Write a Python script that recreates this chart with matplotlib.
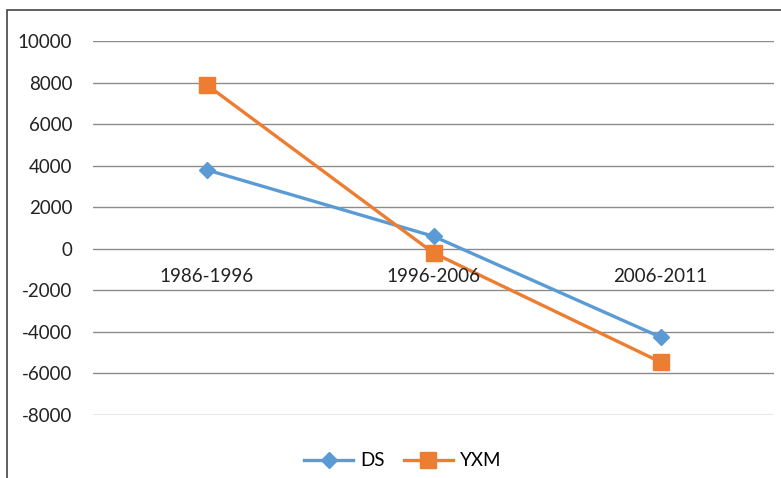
import matplotlib
matplotlib.use('Agg')
from matplotlib import pyplot as plt
from matplotlib.patches import Rectangle

# Data
periods = ['1986-1996', '1996-2006', '2006-2011']
ds = [3800, 600, -4250]
yxm = [7900, -200, -5450]
yticks = list(range(-8000, 10001, 2000))

plt.rcParams['font.family'] = ['Lato', 'DejaVu Sans']

fig = plt.figure(figsize=(7.81, 4.78), dpi=100)
ax = fig.add_axes([93 / 781, 1 - 415 / 478, (774 - 93) / 781, (415 - 41) / 478])

xs = range(len(periods))
ax.plot(xs, ds, color='#5B9BD5', lw=2.4, marker='D', markersize=8, label='DS', zorder=3)
ax.plot(xs, yxm, color='#ED7D31', lw=2.4, marker='s', markersize=11, label='YXM', zorder=3)

# Format plot.
ax.set_xlim(-0.5, len(periods) - 0.5)
ax.set_ylim(-8000, 10000)
ax.set_yticks(yticks)
ax.set_yticklabels([str(t) for t in yticks])
ax.yaxis.grid(True, color='#8c8c8c', lw=1)
ax.set_axisbelow(True)
ax.set_xticks([])
ax.tick_params(axis='y', length=0, pad=15, labelsize=13.5, colors='#222222')
for s in ax.spines.values():
    s.set_visible(False)

# Category labels sit just under the zero line, Excel style
for i, p in enumerate(periods):
    ax.annotate(p, (i, 0), xytext=(0, -28), textcoords='offset pixels',
                ha='center', va='center', fontsize=13.5, color='#222222')

fig.legend(loc='center', bbox_to_anchor=(0.516, 1 - 461 / 478), ncol=2,
           frameon=False, fontsize=13.5, handlelength=2.6, columnspacing=1.0,
           handletextpad=0.4)

# chart border (right and bottom edges fall outside the image)
fig.patches.append(Rectangle((7 / 781, -0.1), 1.2, 1 - 10 / 478 + 0.1,
                             transform=fig.transFigure, fill=False,
                             edgecolor='#444444', lw=1.2))

fig.savefig('out.png', dpi=100)
